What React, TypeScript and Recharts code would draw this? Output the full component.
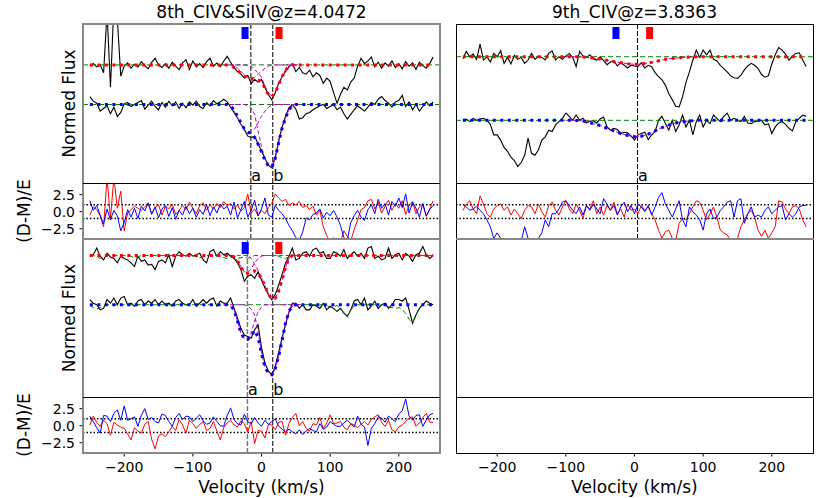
import React from 'react';
import { ComposedChart, Line, Scatter, XAxis, YAxis, ReferenceLine } from 'recharts';

const FONT = 'DejaVu Sans, sans-serif';

// velocity grid of the spectra (km/s)
const vel = [
  -250, -245, -240, -235, -230, -225, -220, -215, -210, -205,
  -200, -195, -190, -185, -180, -175, -170, -165, -160, -155,
  -150, -145, -140, -135, -130, -125, -120, -115, -110, -105,
  -100, -95, -90, -85, -80, -75, -70, -65, -60, -55,
  -50, -45, -40, -35, -30, -25, -20, -15, -10, -5,
  0, 5, 10, 15, 20, 25, 30, 35, 40, 45,
  50, 55, 60, 65, 70, 75, 80, 85, 90, 95,
  100, 105, 110, 115, 120, 125, 130, 135, 140, 145,
  150, 155, 160, 165, 170, 175, 180, 185, 190, 195,
  200, 205, 210, 215, 220, 225, 230, 235, 240, 245,
  250,
];

// 8th system, first fit: normalised flux of the two lines
const flux8aUpper = [
  0.98, 1.02, 0.97, 1.0, 0.88, 1.8, 0.66, 1.9, 1.7, 0.83,
  0.98, 1.03, 0.95, 1.01, 0.97, 1.05, 0.99, 0.94, 1.04, 1.1,
  1.0, 0.96, 1.02, 0.95, 1.04, 0.98, 0.93, 1.03, 1.08, 0.93,
  1.06, 0.97, 1.02, 0.96, 1.05, 1.1, 0.98, 1.03, 0.97, 1.06,
  1.13, 1.04, 0.96, 0.9, 0.86, 0.8, 0.84, 0.72, 0.78, 0.74,
  0.78, 0.66, 0.55, 0.47, 0.58, 0.72, 0.82, 0.9, 0.97, 1.02,
  0.9, 0.96, 0.88, 0.86, 0.92, 0.82, 0.88, 0.84, 0.72, 0.8,
  0.75, 0.58, 0.42, 0.55, 0.66, 0.62, 0.74, 0.8, 0.98, 1.1,
  1.02, 1.06, 1.12, 0.97, 1.04, 0.95, 1.03, 0.98, 1.06, 0.96,
  1.02, 0.94, 1.05, 0.98, 1.03, 0.93, 1.04, 0.99, 0.95, 1.02,
  1.12,
];
const flux8aLower = [
  1.12, 1.05, 1.02, 0.9, 0.94, 0.98, 0.86, 0.96, 0.82, 0.88,
  1.01, 1.03, 0.97, 1.0, 1.03, 1.06, 0.93, 0.99, 1.05, 0.97,
  0.92, 1.03, 0.96, 1.05, 0.98, 1.04, 0.94, 1.02, 0.95, 1.04,
  0.99, 1.05, 0.97, 0.94, 1.03, 0.98, 1.06, 1.01, 1.04, 1.08,
  1.04, 0.96, 0.88, 0.8, 0.7, 0.62, 0.52, 0.5, 0.52, 0.4,
  0.3, 0.18, 0.08, 0.04, 0.2, 0.45, 0.66, 0.82, 0.95, 1.0,
  0.93, 0.78, 0.8, 0.86, 0.88, 0.92, 0.95, 0.98, 1.0, 0.94,
  0.97, 1.0, 0.92, 0.96, 0.86, 0.78, 0.85, 0.92, 0.98, 0.94,
  0.9, 0.96, 1.03, 1.0, 1.08, 1.12, 1.06, 1.02, 0.96, 1.04,
  1.06, 1.14, 0.97, 1.04, 0.92, 1.0, 0.9, 0.97, 1.04, 0.98,
  1.04,
];
const resid8aRed = [
  -0.5, 0.7, 0.3, -0.6, -2.2, 5, -1.0, 5, 0.5, 3.0,
  -2.8, -0.2, 0.3, 0.8, 0.5, 0.2, 0.7, 1.2, -0.3, 0.6,
  1.0, -0.5, 0.8, 0.4, 1.1, -0.4, 0.2, 0.9, 0.3, 1.4,
  0.5, -0.3, 0.9, 1.3, 0.2, 1.0, 0.4, 1.2, 0.6, 1.5,
  0.9, 1.2, 0.4, 1.0, 0.1, 0.6, 2.6, -0.2, 0.4, -0.6,
  0.2, -0.3, 0.6, 1.2, 2.6, 2.0, 1.5, 1.8, 0.9, 1.3,
  1.0, 1.5, 0.6, 0.9, 0.3, 0.8, -0.5, 0.2, -2.2, -3.5,
  -4.5, -3.8, -4.6, -4.5, -2.8, -3.6, -4.3, -2.6, -1.2, 0.3,
  0.6, 1.6, 1.8, 0.4, 1.4, -0.2, 0.8, 1.7, 0.2, 1.2,
  0.5, 1.6, -0.4, 0.9, 1.5, -0.3, 0.7, 1.1, -0.7, 0.4,
  1.6,
];
const resid8aBlue = [
  1.6, 0.2, 0.9, -0.5, -1.8, 0.4, -1.2, 0.2, -0.6, -2.8,
  -1.6, 0.3, -0.8, 0.5, -1.0, 0.8, 0.1, 1.3, -0.4, 0.7,
  -0.9, 0.4, 0.9, -0.7, 0.6, -1.1, 0.2, -0.5, 0.8, -0.3,
  0.5, -0.8, 0.3, -0.4, 1.0, -0.6, 0.7, -0.2, 1.1, 0.4,
  0.8, -0.5, 1.4, -0.9, 0.3, 1.5, -0.8, 0.2, 1.7, -0.6,
  0.4, 2.0, -0.5, -0.8, 0.9, 0.2, -0.3, -1.0, -2.0, -2.8,
  -3.8, -4.2, -3.0, -0.9, -1.2, -0.4, -0.2, 0.4, -0.9, -0.1,
  -0.6, 0.2, -0.8, -2.0, -3.8, -4.2, -1.6, -0.6, 0.2, -0.8,
  -1.3, 0.3, 1.0, -0.3, 1.8, 0.5, 1.2, -0.5, 1.5, 0.8,
  2.0, 0.6, 2.6, -0.2, 1.4, 0.5, -0.8, 1.2, -0.6, 0.3,
  0.9,
];

// 8th system, second fit
const flux8bUpper = [
  0.99, 1.01, 1.1, 0.99, 0.94, 1.03, 0.98, 0.96, 0.9, 0.99,
  0.96, 0.94, 0.9, 0.85, 0.99, 0.92, 0.94, 0.87, 0.88, 0.81,
  0.92, 0.94, 0.9, 1.01, 0.85, 0.99, 1.05, 1.01, 0.99, 1.03,
  0.99, 1.01, 1.03, 0.94, 0.9, 1.05, 1.08, 0.99, 1.05, 1.01,
  1.03, 0.99, 0.96, 0.9, 0.81, 0.65, 0.72, 0.74, 0.69, 0.78,
  0.67, 0.56, 0.47, 0.4, 0.47, 0.6, 0.74, 0.9, 0.99, 1.1,
  0.94, 0.96, 1.03, 1.05, 0.99, 1.08, 1.1, 1.03, 1.05, 0.96,
  0.96, 1.05, 1.03, 0.99, 1.08, 0.96, 1.01, 1.05, 0.99, 1.03,
  0.96, 1.1, 1.12, 0.96, 0.99, 0.94, 0.96, 1.1, 0.96, 1.01,
  1.03, 0.94, 1.03, 0.99, 0.92, 1.01, 1.03, 1.12, 1.01, 0.96,
  1.0,
];
const flux8bLower = [
  1.07, 1.02, 1.0, 0.93, 0.95, 1.07, 1.02, 1.09, 1.0, 1.09,
  1.11, 1.0, 1.02, 0.98, 1.05, 1.07, 1.0, 1.05, 1.02, 1.07,
  1.0, 1.05, 1.0, 1.02, 0.98, 1.05, 1.07, 1.02, 1.0, 1.0,
  1.07, 0.98, 1.02, 1.07, 1.02, 1.07, 1.09, 0.98, 1.05, 1.02,
  1.02, 1.09, 0.95, 0.82, 0.68, 0.59, 0.57, 0.55, 0.66, 0.73,
  0.42, 0.21, 0.1, 0.05, 0.16, 0.35, 0.55, 0.73, 0.9, 1.02,
  1.02, 0.95, 1.0, 0.93, 0.93, 1.0, 0.98, 0.95, 1.02, 0.93,
  0.98, 0.95, 0.91, 0.95, 0.89, 0.84, 0.93, 1.05, 1.07, 1.0,
  1.09, 0.93, 0.98, 1.05, 0.95, 1.0, 1.02, 0.95, 1.0, 1.07,
  1.07, 1.05, 1.09, 0.93, 0.75, 0.86, 0.95, 1.0, 1.05, 1.02,
  1.0,
];
// extra blends of the second fit (green)
const blend8bUpper = [
  1, 1, 0.98, 0.96, 0.97, 1, 1, 1, 1, 1,
  1, 1, 0.99, 0.97, 0.98, 1, 1, 1, 1, 1,
  1, 1, 1, 1, 1, 1, 1, 1, 1, 1,
  1, 0.98, 0.97, 0.98, 1, 1, 1, 1, 0.99, 0.97,
  0.96, 0.98, 0.97, 0.96, 0.97, 0.98, 0.96, 0.98, 1, 1,
  1, 1, 1, 1, 1, 0.99, 0.97, 0.96, 0.98, 1,
  1, 1, 1, 1, 1, 1, 1, 1, 1, 1,
  1, 1, 1, 1, 1, 1, 1, 1, 1, 1,
  1, 1, 1, 1, 1, 1, 1, 1, 1, 1,
  1, 1, 1, 1, 1, 1, 1, 1, 1, 1,
  1,
];
const blend8bLower = [
  0.99, 0.96, 0.94, 0.96, 0.99, 1, 1, 1, 1, 1,
  1, 1, 1, 1, 1, 1, 1, 1, 1, 1,
  1, 1, 1, 1, 1, 1, 1, 1, 1, 1,
  1, 1, 1, 1, 1, 1, 1, 1, 1, 1,
  1, 1, 1, 1, 1, 1, 1, 1, 1, 1,
  1, 1, 1, 1, 1, 1, 1, 1, 1, 1,
  1, 1, 1, 1, 1, 1, 1, 1, 1, 0.99,
  0.96, 0.97, 0.99, 0.95, 0.88, 0.85, 0.92, 0.99, 1, 1,
  1, 1, 1, 1, 1, 1, 0.99, 0.97, 0.96, 0.95,
  0.96, 0.94, 0.88, 0.8, 0.76, 0.86, 0.96, 0.99, 1, 1,
  1,
];
const resid8bRed = [
  0.1, 1.4, 0.5, -0.1, 0.8, 0.3, -1.4, 0.5, 0.1, -0.2,
  -0.4, -1.2, -2.1, -0.3, -0.8, -1.1, 0.2, 0.6, -2.0, -3.4,
  -1.5, -1.2, -1.6, -0.9, -0.1, -0.7, 0.9, 0.1, -1.1, 0.8,
  0.3, -0.4, 0.2, 0.6, -0.7, -0.4, 0.6, -0.8, -2.1, -0.3,
  0.4, 0.8, 0.1, -0.2, 0.7, 0.3, -0.9, 0.6, -2.6, -0.7,
  -0.8, -1.8, 0.2, 0.1, -0.6, 0.5, 0.6, -1.4, 0.3, 1.2,
  1.8, 0.0, 0.6, -0.4, -0.8, 0.3, 0.1, 1.2, -0.5, 0.4,
  1.6, 0.3, 0.4, 0.6, -0.2, -0.6, 0.3, 0.1, -0.3, 0.2,
  0.6, 0.1, 0.9, 1.3, 1.6, 0.5, -0.1, 0.8, -0.6, -0.9,
  -0.2, 0.1, 0.6, 1.1, 1.3, -0.1, 0.4, 1.2, 1.8, 0.5,
  0.5,
];
const resid8bBlue = [
  1.4, 0.6, -0.3, -1.1, 1.5, 1.4, 0.6, 1.8, 2.3, 0.8,
  2.9, 0.8, 1.0, 1.3, -0.1, 1.5, 2.5, 0.9, 1.2, 0.6,
  0.4, 1.7, 1.5, 0.6, -0.1, 1.2, 1.8, 0.9, 1.4, 1.3,
  0.6, 1.1, 1.6, 0.7, 0.2, 0.4, 1.3, 0.6, 0.0, -0.1,
  1.5, 2.6, 0.9, 0.3, 0.1, 1.7, 0.6, 0.3, 1.2, 0.4,
  -0.1, 0.8, 0.2, 0.6, 1.0, -0.1, -0.5, -0.9, -0.5, -0.9,
  -1.2, -0.6, -1.3, -0.8, -0.4, -0.7, -0.9, 0.3, -0.5, -0.2,
  0.6, 0.2, -0.1, -0.1, 0.4, 0.8, 0.3, -0.2, 1.4, 0.2,
  -0.2, -2.9, -0.4, 0.3, 1.3, 1.1, 0.5, 1.4, 1.0, 0.6,
  1.7, 2.2, 3.9, 1.4, 0.8, 1.5, 1.6, -0.1, 0.8, 1.6,
  1.8,
];

// 9th system
const flux9Upper = [
  0.97, 1.08, 1.0, 1.04, 0.96, 1.19, 0.95, 1.0, 0.92, 1.05,
  1.0, 1.09, 0.9, 0.99, 0.89, 1.02, 0.96, 0.99, 0.9, 0.95,
  1.05, 0.96, 1.01, 0.99, 0.95, 1.05, 1.09, 0.95, 1.0, 0.96,
  1.01, 1.05, 0.99, 0.85, 1.08, 1.01, 0.99, 1.03, 0.97, 0.95,
  1.0, 0.94, 0.88, 0.92, 0.94, 0.86, 0.91, 0.87, 0.83, 0.87,
  0.86, 0.85, 0.91, 0.83, 0.87, 0.85, 0.76, 0.7, 0.65, 0.57,
  0.44, 0.35, 0.25, 0.24, 0.39, 0.61, 0.77, 0.95, 1.1, 0.99,
  1.1, 1.03, 1.1, 0.96, 0.94, 0.87, 0.82, 0.77, 0.71, 0.68,
  0.67, 0.72, 0.8, 0.86, 0.9, 0.87, 0.82, 0.73, 0.69, 0.71,
  0.89, 1.03, 1.14, 1.1, 1.04, 0.95, 1.01, 1.05, 1.06, 0.95,
  0.85,
];
const flux9Lower = [
  1.0, 1.02, 0.98, 1.03, 1.0, 1.02, 1.03, 1.0, 0.94, 0.78,
  0.78, 0.7, 0.59, 0.53, 0.44, 0.39, 0.3, 0.36, 0.47, 0.73,
  0.5, 0.47, 0.55, 0.7, 0.75, 0.85, 0.83, 0.93, 0.98, 1.03,
  1.11, 1.06, 1.0, 1.08, 1.0, 1.03, 0.96, 0.99, 0.99, 0.96,
  1.02, 1.05, 0.9, 0.85, 0.88, 0.86, 0.8, 0.82, 0.81, 0.76,
  0.7, 0.78, 0.8, 0.82, 0.71, 0.78, 0.83, 1.0, 1.06, 0.95,
  0.85, 1.0, 0.83, 0.93, 1.08, 0.9, 1.0, 0.78, 0.98, 1.08,
  0.9, 1.0, 0.95, 1.08, 1.03, 0.98, 1.06, 1.11, 1.0, 1.03,
  1.0, 0.98, 1.06, 0.96, 0.95, 0.98, 0.99, 1.0, 0.93, 0.95,
  0.8, 0.9, 0.96, 0.98, 0.94, 0.88, 0.84, 0.98, 1.03, 1.08,
  1.06,
];
const resid9Red = [
  0.2, 1.1, 1.6, 0.4, -0.3, 2.3, 1.1, -0.3, -0.8, 0.4,
  0.9, 1.1, 0.2, 0.7, -0.5, 0.4, -0.3, -1.0, 0.2, 0.9,
  0.7, -0.3, 1.1, 0.0, -0.8, 0.9, 1.4, 0.2, -0.5, 0.7,
  1.6, 0.4, -0.3, 1.1, 0.2, -1.0, 0.9, 0.4, 1.6, -0.3,
  0.7, -0.5, 0.9, 0.2, 1.4, -0.3, 0.4, -0.8, 1.1, 0.2,
  0.4, -0.3, 0.9, 0.2, 0.7, -0.3, -1.2, -2.7, -3.9, -2.9,
  -2.7, -3.9, -4.2, -1.7, -1.0, -1.2, -0.3, 0.7, 1.6, 1.4,
  0.2, -1.2, -0.3, 0.7, -0.8, -2.7, -3.1, -3.4, -4.2, -4.3,
  -3.9, -2.2, -1.2, -0.3, 0.2, -0.8, -2.7, -3.6, -2.7, -3.9,
  -3.1, -2.2, 1.6, 1.4, 0.4, -0.3, 0.7, 0.9, 0.4, -1.2,
  -2.2,
];
const resid9Blue = [
  1.1, 0.7, 0.2, 0.4, 0.8, 0.2, -0.3, -1.2, -2.2, -3.9,
  -3.1, -3.9, -4.3, -4.6, -4.3, -4.6, -4.1, -4.3, -2.2, -3.9,
  -4.1, -4.1, -3.9, -3.1, -1.2, -2.2, -0.3, -0.3, 0.4, 1.4,
  1.6, 0.9, 0.2, -0.3, 0.7, -0.5, 0.9, 0.2, 1.1, 0.4,
  -0.3, 1.9, 1.1, 0.2, 0.9, -0.5, 0.7, 1.4, 0.0, 0.9,
  -0.3, 1.1, 0.7, 0.0, 0.9, -0.5, 0.7, 2.1, 2.8, 1.1,
  0.2, -0.8, 0.4, 1.6, -1.2, -2.2, 0.7, 0.0, -0.5, -1.2,
  -2.7, -0.3, 0.4, -1.0, -0.8, 0.2, 0.7, 1.4, 1.6, -0.8,
  1.6, 1.9, -1.7, -0.3, 0.7, -0.8, -0.5, -0.8, 0.2, 0.7,
  -0.3, 0.2, 0.7, 0.9, -1.2, -0.3, -0.8, -0.3, 0.7, 0.9,
  0.9,
];

// fitted models (dotted), velocity grid of the 8th system fits
const modelVel8 = [-250, -55, -50, -45, -40, -35, -30, -25, -20, -15, -10, -5, 0, 5, 10, 15, 20, 25, 30, 35, 40, 45, 50, 55, 250];
const model8aUpper = [1, 1, 1, 0.99, 0.96, 0.92, 0.87, 0.83, 0.8, 0.79, 0.78, 0.77, 0.74, 0.65, 0.55, 0.52, 0.58, 0.7, 0.82, 0.92, 0.98, 1, 1, 1, 1];
const model8aLower = [1, 1, 1, 0.98, 0.92, 0.82, 0.72, 0.63, 0.58, 0.56, 0.5, 0.4, 0.28, 0.16, 0.07, 0.05, 0.18, 0.42, 0.64, 0.8, 0.92, 0.98, 1, 1, 1];
const model8bUpper = [1, 1, 1, 1, 0.98, 0.93, 0.84, 0.77, 0.76, 0.78, 0.79, 0.76, 0.69, 0.59, 0.48, 0.41, 0.42, 0.52, 0.67, 0.84, 0.96, 1, 1, 1, 1];
const model8bLower = [1, 1, 1, 0.99, 0.93, 0.78, 0.62, 0.54, 0.53, 0.58, 0.65, 0.56, 0.34, 0.16, 0.07, 0.05, 0.13, 0.3, 0.52, 0.75, 0.91, 0.98, 1, 1, 1];

// single components a and b (magenta)
const compVel8 = [-55, -50, -45, -40, -35, -30, -25, -20, -15, -10, -5, 0, 5, 10, 15, 20, 25, 30, 35, 40, 45, 50, 55];
const comp8aUpperA = [1, 1, 1, 0.98, 0.95, 0.9, 0.85, 0.81, 0.8, 0.81, 0.86, 0.9, 0.95, 0.98, 1, 1, 1, 1, 1, 1, 1, 1, 1];
const comp8aUpperB = [1, 1, 1, 1, 1, 1, 1, 0.99, 0.97, 0.93, 0.88, 0.81, 0.68, 0.58, 0.53, 0.57, 0.7, 0.83, 0.93, 0.98, 1, 1, 1];
const comp8aLowerA = [1, 1, 0.97, 0.9, 0.8, 0.7, 0.62, 0.58, 0.58, 0.63, 0.72, 0.82, 0.9, 0.96, 0.99, 1, 1, 1, 1, 1, 1, 1, 1];
const comp8aLowerB = [1, 1, 1, 1, 1, 1, 1, 0.98, 0.95, 0.85, 0.6, 0.36, 0.18, 0.08, 0.05, 0.18, 0.42, 0.64, 0.8, 0.92, 0.98, 1, 1];
const comp8bUpperA = [1, 1, 1, 0.98, 0.93, 0.85, 0.78, 0.77, 0.82, 0.9, 0.96, 0.99, 1, 1, 1, 1, 1, 1, 1, 1, 1, 1, 1];
const comp8bUpperB = [1, 1, 1, 1, 1, 1, 1, 1, 0.96, 0.88, 0.8, 0.7, 0.59, 0.48, 0.41, 0.42, 0.52, 0.67, 0.84, 0.96, 1, 1, 1];
const comp8bLowerA = [1, 1, 0.98, 0.93, 0.78, 0.62, 0.54, 0.53, 0.62, 0.78, 0.9, 0.97, 1, 1, 1, 1, 1, 1, 1, 1, 1, 1, 1];
const comp8bLowerB = [1, 1, 1, 1, 1, 1, 1, 0.98, 0.94, 0.86, 0.63, 0.35, 0.16, 0.07, 0.05, 0.13, 0.3, 0.52, 0.75, 0.91, 0.98, 1, 1];

const modelVel9 = [-250, -100, -90, -80, -70, -60, -50, -40, -30, -20, -10, 0, 10, 20, 30, 40, 50, 60, 70, 80, 90, 100, 250];
const model9Upper = [1, 1, 1, 0.998, 0.99, 0.98, 0.965, 0.945, 0.925, 0.91, 0.895, 0.885, 0.89, 0.905, 0.925, 0.95, 0.97, 0.98, 0.99, 0.995, 1, 1, 1];
const model9Lower = [1, 1, 1, 0.995, 0.98, 0.95, 0.92, 0.88, 0.84, 0.8, 0.77, 0.75, 0.76, 0.79, 0.84, 0.89, 0.93, 0.96, 0.98, 0.99, 1, 1, 1];

// component centres and doublet markers (km/s)
const lines8a = [{ v: -15.5, label: 'a', color: '#000' }, { v: 16.4, label: 'b', color: '#000' }];
const lines8b = [{ v: -20.5, label: 'a', color: '#777' }, { v: 16.4, label: 'b', color: '#000' }];
const lines9 = [{ v: 4.4, label: 'a', color: '#000' }];
const marks8a = [-24, 25.5];
const marks8b = [-23.7, 25.2];
const marks9 = [-27, 22];

const sigmaLevels = [-1, 1];
const velTicks = [-200, -100, 0, 100, 200];
const residTicks = [-2.5, 0, 2.5];

const VDOM: [number, number] = [-260, 260];
const RDOM: [number, number] = [-4, 4.2];

const minus = (s: string) => s.replace('-', '\u2212');
const pts = (xs: number[], ys: number[], off = 0) => xs.map((v, i) => ({ v, y: ys[i] + off }));

const GREEN = '#008000';
const MAG = '#bf00bf';
const RED = '#ff0000';
const BLUE = '#0000ff';
const LABEL_SIZE = 17;
const TICK_SIZE = 14;

type VL = { v: number; label: string; color: string };

function FluxPanel(p: {
  left: number; top: number; width: number; height: number;
  domain: [number, number]; offset: number;
  upper: number[]; lower: number[];
  modelVel: number[]; modelU: number[]; modelL: number[];
  compVel: number[]; compsU: number[][]; compsL: number[][];
  blendU?: number[]; blendL?: number[];
  vlines: VL[]; marks: number[];
}) {
  const [lo, hi] = p.domain;
  const flat = { dot: false, isAnimationActive: false, type: 'linear' as const, dataKey: 'y' };
  return (
    <div style={{ position: 'absolute', left: p.left, top: p.top }}>
      <ComposedChart width={p.width} height={p.height} margin={{ top: 0, right: 0, bottom: 0, left: 0 }}>
        <XAxis type="number" dataKey="v" domain={VDOM} hide allowDataOverflow />
        <YAxis type="number" domain={p.domain} hide allowDataOverflow />
        {p.vlines.map((l) => (
          <ReferenceLine key={l.v} x={l.v} stroke={l.color} strokeWidth={l.color === '#000' ? 1 : 1.5} strokeDasharray="5 2" />
        ))}
        <Line {...flat} data={pts(vel, p.upper, p.offset)} stroke="#000" strokeWidth={1.1} />
        <Line {...flat} data={pts(vel, p.lower)} stroke="#000" strokeWidth={1.1} />
        {p.blendU ? (
          <Line {...flat} data={pts(vel, p.blendU, p.offset)} stroke={GREEN} strokeWidth={1} strokeDasharray="5 3" />
        ) : (
          <ReferenceLine y={1 + p.offset} stroke={GREEN} strokeWidth={1} strokeDasharray="5 3" />
        )}
        {p.blendL ? (
          <Line {...flat} data={pts(vel, p.blendL)} stroke={GREEN} strokeWidth={1} strokeDasharray="5 3" />
        ) : (
          <ReferenceLine y={1} stroke={GREEN} strokeWidth={1} strokeDasharray="5 3" />
        )}
        {p.compsU.map((c, i) => (
          <Line key={'cu' + i} {...flat} data={pts(p.compVel, c, p.offset)} stroke={MAG} strokeWidth={1} strokeDasharray="4 2.5" />
        ))}
        {p.compsL.map((c, i) => (
          <Line key={'cl' + i} {...flat} data={pts(p.compVel, c)} stroke={MAG} strokeWidth={1} strokeDasharray="4 2.5" />
        ))}
        <Line {...flat} data={pts(p.modelVel, p.modelU, p.offset)} stroke={RED} strokeWidth={3} strokeDasharray="3 4.5" />
        <Line {...flat} data={pts(p.modelVel, p.modelL)} stroke={BLUE} strokeWidth={3} strokeDasharray="3 4.5" />
        <Scatter
          data={p.marks.map((v, i) => ({ v, y: hi, c: i === 0 ? BLUE : RED }))}
          dataKey="y"
          isAnimationActive={false}
          shape={(s: any) => <rect x={s.cx - 3.5} y={s.cy + 3} width={7} height={12} fill={s.payload.c} />}
        />
        <Scatter
          data={p.vlines.map((l) => ({ v: l.v, y: lo, t: l.label }))}
          dataKey="y"
          isAnimationActive={false}
          shape={(s: any) => (
            <text x={s.cx + 0.5} y={s.cy - 2.5} fontSize={16} fontFamily={FONT} fill="#000">
              {s.payload.t}
            </text>
          )}
        />
      </ComposedChart>
    </div>
  );
}

const YW = 52;
const XH = 40;

function ResidPanel(p: {
  left: number; top: number; width: number; height: number;
  red?: number[]; blue?: number[]; vlines: VL[];
  yTicks?: boolean; xTicks?: boolean;
}) {
  const yw = p.yTicks ? YW : 0;
  const xh = p.xTicks ? XH : 0;
  const flat = { dot: false, isAnimationActive: false, type: 'linear' as const, dataKey: 'y' };
  const tickStyle = { fontSize: TICK_SIZE, fill: '#000', fontFamily: FONT };
  const hasData = !!(p.red || p.blue);
  return (
    <div style={{ position: 'absolute', left: p.left - yw, top: p.top }}>
      <ComposedChart width={p.width + yw} height={p.height + xh} margin={{ top: 0, right: 0, bottom: 0, left: 0 }}>
        <XAxis
          type="number" dataKey="v" domain={VDOM} allowDataOverflow
          hide={!p.xTicks} height={XH} ticks={velTicks} interval={0}
          tickFormatter={(t: number) => minus(String(t))}
          axisLine={false} tickSize={3.5} tickMargin={6}
          tick={tickStyle} tickLine={{ stroke: '#000' }}
        />
        <YAxis
          type="number" domain={RDOM} allowDataOverflow
          hide={!p.yTicks} width={YW} ticks={residTicks} interval={0}
          tickFormatter={(t: number) => minus(t.toFixed(1))}
          axisLine={false} tickSize={3.5} tickMargin={4.5}
          tick={tickStyle} tickLine={{ stroke: '#000' }}
        />
        {hasData && sigmaLevels.map((s) => (
          <ReferenceLine key={s} y={s} stroke="#000" strokeWidth={1.5} strokeDasharray="1.5 2" />
        ))}
        {p.vlines.map((l) => (
          <ReferenceLine key={l.v} x={l.v} stroke={l.color} strokeWidth={l.color === '#000' ? 1 : 1.5} strokeDasharray="5 2" />
        ))}
        {p.red && <Line {...flat} data={pts(vel, p.red)} stroke={RED} strokeWidth={1} />}
        {p.blue && <Line {...flat} data={pts(vel, p.blue)} stroke={BLUE} strokeWidth={1} />}
      </ComposedChart>
    </div>
  );
}

const GRAY = '#888';
const box = (l: number, t: number, r: number, b: number, color: string, w: number) => (
  <div
    style={{
      position: 'absolute', left: l - w / 2, top: t - w / 2, width: r - l + w, height: b - t + w,
      border: `${w}px solid ${color}`, boxSizing: 'border-box', pointerEvents: 'none',
    }}
  />
);
const hline = (l: number, r: number, y: number, color: string, w: number) => (
  <div style={{ position: 'absolute', left: l, top: y - w / 2, width: r - l, height: w, background: color }} />
);

export default function App() {
  const L0 = 83, L1 = 440, R0 = 456, R1 = 813;
  const Y0 = 24, Y1 = 183, Y2 = 239, Y3 = 397, Y4 = 453;
  const W = L1 - L0;
  return (
    <div style={{ position: 'absolute', left: 0, top: 0, width: 830, height: 498, background: '#fff', fontFamily: FONT }}>
      <FluxPanel
        left={L0} top={Y0} width={W} height={Y1 - Y0} domain={[-0.19, 2.22]} offset={0.6}
        upper={flux8aUpper} lower={flux8aLower}
        modelVel={modelVel8} modelU={model8aUpper} modelL={model8aLower}
        compVel={compVel8} compsU={[comp8aUpperA, comp8aUpperB]} compsL={[comp8aLowerA, comp8aLowerB]}
        vlines={lines8a} marks={marks8a}
      />
      <ResidPanel left={L0} top={Y1} width={W} height={Y2 - Y1} red={resid8aRed} blue={resid8aBlue} vlines={lines8a} yTicks />
      <FluxPanel
        left={L0} top={Y2} width={W} height={Y3 - Y2} domain={[-0.25, 1.89]} offset={0.667}
        upper={flux8bUpper} lower={flux8bLower}
        modelVel={modelVel8} modelU={model8bUpper} modelL={model8bLower}
        compVel={compVel8} compsU={[comp8bUpperA, comp8bUpperB]} compsL={[comp8bLowerA, comp8bLowerB]}
        blendU={blend8bUpper} blendL={blend8bLower}
        vlines={lines8b} marks={marks8b}
      />
      <ResidPanel left={L0} top={Y3} width={W} height={Y4 - Y3} red={resid8bRed} blue={resid8bBlue} vlines={lines8b} yTicks xTicks />

      <FluxPanel
        left={R0} top={Y0} width={R1 - R0} height={Y1 - Y0} domain={[0.05, 2.46]} offset={0.964}
        upper={flux9Upper} lower={flux9Lower}
        modelVel={modelVel9} modelU={model9Upper} modelL={model9Lower}
        compVel={modelVel9.slice(1, -1)} compsU={[model9Upper.slice(1, -1)]} compsL={[model9Lower.slice(1, -1)]}
        vlines={lines9} marks={marks9}
      />
      <ResidPanel left={R0} top={Y1} width={R1 - R0} height={Y2 - Y1} red={resid9Red} blue={resid9Blue} vlines={lines9} />
      <ResidPanel left={R0} top={Y3} width={R1 - R0} height={Y4 - Y3} vlines={[]} xTicks />

      {/* frames */}
      {box(L0, Y0, L1, Y2, GRAY, 2)}
      {hline(L0, L1, Y1, '#000', 1)}
      {box(L0, Y2, L1, Y4, GRAY, 2)}
      {hline(L0, L1, Y3, '#000', 1)}
      {box(R0, Y0, R1, Y4, '#000', 1)}
      {hline(R0, R1, Y1, '#000', 1)}
      {hline(R0 - 0.5, R1 + 0.5, Y2, GRAY, 2)}
      {hline(R0, R1, Y3, '#000', 1)}

      <svg width={830} height={498} style={{ position: 'absolute', left: 0, top: 0, pointerEvents: 'none' }}>
        <g fontFamily={FONT} fill="#000" fontSize={LABEL_SIZE}>
          <text x={(L0 + L1) / 2} y={18} textAnchor="middle">{'8th_CIV&SiIV@z=4.0472'}</text>
          <text x={(R0 + R1) / 2} y={18} textAnchor="middle">{'9th_CIV@z=3.8363'}</text>
          <text x={75} y={(Y0 + Y1) / 2} textAnchor="middle" transform={`rotate(-90 75 ${(Y0 + Y1) / 2})`}>Normed Flux</text>
          <text x={75} y={(Y2 + Y3) / 2} textAnchor="middle" transform={`rotate(-90 75 ${(Y2 + Y3) / 2})`}>Normed Flux</text>
          <text x={30} y={(Y1 + Y2) / 2} textAnchor="middle" transform={`rotate(-90 30 ${(Y1 + Y2) / 2})`}>(D-M)/E</text>
          <text x={30} y={(Y3 + Y4) / 2} textAnchor="middle" transform={`rotate(-90 30 ${(Y3 + Y4) / 2})`}>(D-M)/E</text>
          <text x={(L0 + L1) / 2} y={493} textAnchor="middle">Velocity (km/s)</text>
          <text x={(R0 + R1) / 2} y={493} textAnchor="middle">Velocity (km/s)</text>
        </g>
      </svg>
    </div>
  );
}
